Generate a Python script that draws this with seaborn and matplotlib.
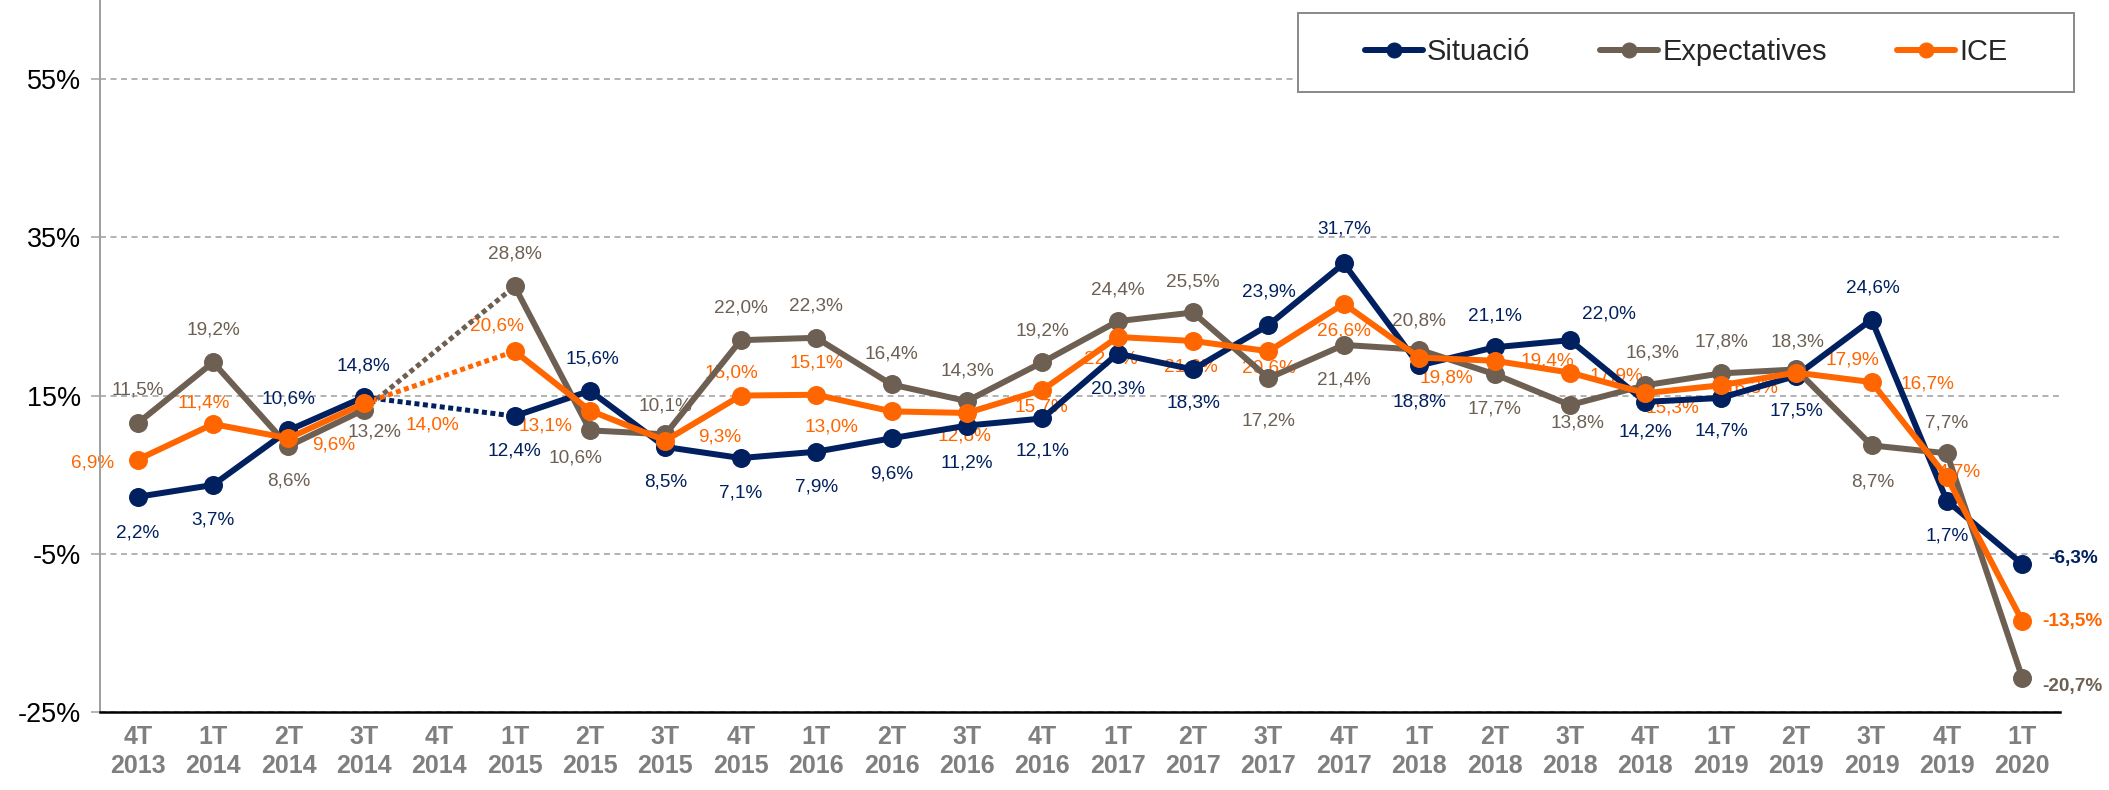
import numpy as np
import pandas as pd
import seaborn as sns
import matplotlib.pyplot as plt
from matplotlib.lines import Line2D
from matplotlib.patches import Rectangle

# dades (índex de confiança, % saldo)
trimestres = ["4T\n2013", "1T\n2014", "2T\n2014", "3T\n2014", "4T\n2014", "1T\n2015",
              "2T\n2015", "3T\n2015", "4T\n2015", "1T\n2016", "2T\n2016", "3T\n2016",
              "4T\n2016", "1T\n2017", "2T\n2017", "3T\n2017", "4T\n2017", "1T\n2018",
              "2T\n2018", "3T\n2018", "4T\n2018", "1T\n2019", "2T\n2019", "3T\n2019",
              "4T\n2019", "1T\n2020"]
situacio = [2.2, 3.7, 10.6, 14.8, np.nan, 12.4, 15.6, 8.5, 7.1, 7.9, 9.6, 11.2, 12.1,
            20.3, 18.3, 23.9, 31.7, 18.8, 21.1, 22.0, 14.2, 14.7, 17.5, 24.6, 1.7, -6.3]
expectatives = [11.5, 19.2, 8.6, 13.2, np.nan, 28.8, 10.6, 10.1, 22.0, 22.3, 16.4, 14.3, 19.2,
                24.4, 25.5, 17.2, 21.4, 20.8, 17.7, 13.8, 16.3, 17.8, 18.3, 8.7, 7.7, -20.7]
ice = [6.9, 11.4, 9.6, 14.0, np.nan, 20.6, 13.1, 9.3, 15.0, 15.1, 13.0, 12.8, 15.7,
       22.4, 21.9, 20.6, 26.6, 19.8, 19.4, 17.9, 15.3, 16.3, 17.9, 16.7, 4.7, -13.5]

series = ["Situació", "Expectatives", "ICE"]
colors = {"Situació": "#002060", "Expectatives": "#6D5F52", "ICE": "#FF6600"}

# posició de les etiquetes (dx, dy en px, dy cap avall)
off_sit = [(0, 36), (0, 35), (0, -31), (0, -31), None, (0, 35), (2, -32), (0, 35), (0, 35),
           (0, 35), (0, 36), (0, 37), (0, 33), (0, 35), (0, 34), (0, -33), (0, -34), (0, 37),
           (0, -31), (39, -26), (0, 30), (1, 33), (0, 35), (1, -32), (0, 35), None]
off_exp = [(0, -33), (0, -32), (0, 35), (11, 22), None, (0, -32), (-15, 28), (0, -28),
           (0, -32), (0, -32), (0, -30), (0, -30), (0, -31), (0, -31), (0, -30), (0, 43),
           (0, 35), (0, -29), (0, 35), (7, 18), (7, -32), (1, -31), (1, -27), (1, 37),
           (0, -30), None]
off_ice = [(-45, 3), (-9, -21), (45, 7), (69, 22), None, (-18, -25), (-45, 15), (54, -4),
           (-9, -23), (0, -32), (-60, 16), (-2, 23), (-1, 17), (-7, 22), (-2, 26), (0, 17),
           (0, 27), (27, 20), (53, 0), (46, 3), (27, 15), (31, 3), (56, -13), (56, 2),
           (12, -5), None]
end_off = {"Situació": (26, -6), "Expectatives": (20, 9), "ICE": (20, 0)}

values = {"Situació": situacio, "Expectatives": expectatives, "ICE": ice}
offsets = {"Situació": off_sit, "Expectatives": off_exp, "ICE": off_ice}

rows = []
for s in series:
    for i, v in enumerate(values[s]):
        if not np.isnan(v):
            rows.append({"pos": i, "valor": v, "serie": s, "tram": 0 if i < 4 else 1})
df = pd.DataFrame(rows)

sns.set_theme(style="white")
plt.rcParams["font.family"] = ["Liberation Sans", "DejaVu Sans"]

fig = plt.figure(figsize=(2109 / 72, 790 / 72), dpi=72)
ax = fig.add_axes([100 / 2109, 78 / 790, 1960 / 2109, 712 / 790])

# trams puntejats on falta el 4T 2014
for s in series:
    v = values[s]
    sns.lineplot(x=[3, 5], y=[v[3], v[5]], color=colors[s], linewidth=5,
                 linestyle=(0, (1, 0.7)), ax=ax, legend=False)

sns.lineplot(data=df, x="pos", y="valor", hue="serie", hue_order=series, units="tram",
             estimator=None, sort=False, palette=colors, marker="o", markersize=19,
             markeredgewidth=0, linewidth=6, legend=False, ax=ax, zorder=3)

for s in series:
    v = values[s]
    for i, val in enumerate(v):
        if np.isnan(val):
            continue
        txt = f"{val:.1f}%".replace(".", ",")
        if i == len(v) - 1:
            dx, dy = end_off[s]
            ax.annotate(txt, (i, val), xytext=(dx, -dy), textcoords="offset points",
                        ha="left", va="center", fontsize=19, fontweight="bold",
                        color=colors[s], zorder=1)
        else:
            dx, dy = offsets[s][i]
            ax.annotate(txt, (i, val), xytext=(dx, -dy), textcoords="offset points",
                        ha="center", va="center", fontsize=19, color=colors[s], zorder=1)

ax.set_xlim(-0.5, 25.5)
ax.set_ylim(-25, 65)
ax.set_yticks([-25, -5, 15, 35, 55])
ax.set_yticklabels([f"{t}%" for t in [-25, -5, 15, 35, 55]], fontsize=27, color="black")
ax.set_xticks(range(len(trimestres)))
ax.set_xticklabels(trimestres, fontsize=25, fontweight="bold", color="#7F7F7F",
                   linespacing=1.25)
ax.set_xticks(np.arange(-0.5, 26, 1), minor=True)
ax.tick_params(axis="x", which="major", length=0, pad=13)
ax.tick_params(axis="x", which="minor", length=9, width=2, color="black", direction="out")
ax.tick_params(axis="y", length=9, width=1.5, color="#A0A0A0", pad=10, left=True)
ax.set_xlabel("")
ax.set_ylabel("")

ax.yaxis.grid(True, linestyle=(0, (4, 3)), color="#9A9A9A", linewidth=1.5)
ax.xaxis.grid(False)
ax.set_axisbelow(True)
for side in ["top", "right"]:
    ax.spines[side].set_visible(False)
ax.spines["left"].set_color("#A0A0A0")
ax.spines["left"].set_linewidth(2)
ax.spines["bottom"].set_color("black")
ax.spines["bottom"].set_linewidth(2.5)

# llegenda amb marc
fig.add_artist(Rectangle((1298 / 2109, 1 - 92 / 790), 776 / 2109, 79 / 790,
                         transform=fig.transFigure, facecolor="white",
                         edgecolor="#8C8C8C", linewidth=2))
handles = [Line2D([0], [0], color=colors[s], lw=6, marker="o", markersize=15) for s in series]
fig.legend(handles, series, ncol=3, loc="center",
           bbox_to_anchor=((1298 + 2074) / 2 / 2109, 1 - (13 + 92) / 2 / 790),
           frameon=False, fontsize=29, handlelength=2.0, handletextpad=0.15,
           columnspacing=2.4)

fig.savefig("out.png", dpi=72)
